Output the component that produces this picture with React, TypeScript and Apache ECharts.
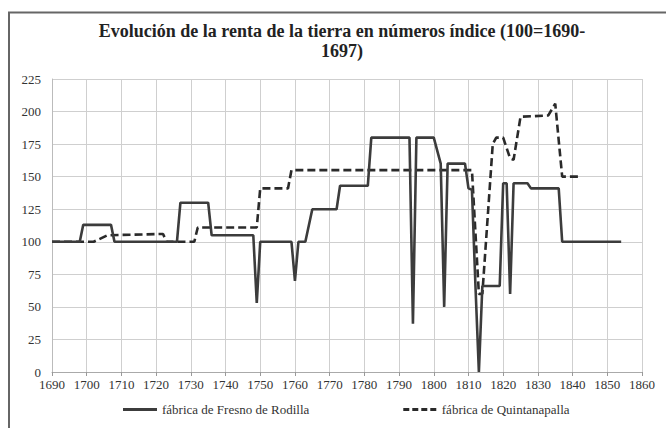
import React, { useEffect, useRef } from "react";
import * as echarts from "echarts";

const titleLine1 = "Evolución de la renta de la tierra en números índice (100=1690-";
const titleLine2 = "1697)";

const seriesNames = ["fábrica de Fresno de Rodilla", "fábrica de Quintanapalla"];

const fresnoYears = [1690, 1698, 1699, 1707, 1708, 1726, 1727, 1735, 1736, 1748, 1749, 1750, 1759, 1760, 1761, 1763, 1765, 1772, 1773, 1781, 1782, 1793, 1794, 1795, 1800, 1802, 1803, 1804, 1809, 1810, 1811, 1812, 1813, 1814, 1819, 1820, 1821, 1822, 1823, 1827, 1828, 1836, 1837, 1854];
const fresnoValues = [100, 100, 113, 113, 100, 100, 130, 130, 105, 105, 53, 100, 100, 70, 100, 100, 125, 125, 143, 143, 180, 180, 37, 180, 180, 160, 50, 160, 160, 141, 140, 67, 0, 66, 66, 145, 145, 60, 145, 145, 141, 141, 100, 100];

const quintYears = [1690, 1702, 1706, 1722, 1723, 1731, 1732, 1749, 1750, 1758, 1759, 1811, 1813, 1814, 1817, 1818, 1820, 1822, 1823, 1825, 1833, 1835, 1837, 1842];
const quintValues = [100, 100, 105, 106, 100, 100, 111, 111, 141, 141, 155, 155, 60, 60, 175, 180, 180, 164, 163, 196, 197, 206, 150, 150];

const xMin = 1690;
const xMax = 1860;
const xStep = 10;
const yMin = 0;
const yMax = 225;
const yStep = 25;

const FONT = "'Times New Roman', 'Liberation Serif', serif";

const solidIcon = "path://M0,0H34V3H0Z";
const dashedIcon = "path://M0,0H6V3H0Z M9,0H15V3H9Z M18,0H24V3H18Z M27,0H33V3H27Z";

export default function App() {
  const ref = useRef<HTMLDivElement>(null);
  useEffect(() => {
    if (!ref.current) return;
    const chart = echarts.init(ref.current, undefined, { renderer: "svg" });
    const fresno = fresnoYears.map((y, i) => [y, fresnoValues[i]]);
    const quint = quintYears.map((y, i) => [y, quintValues[i]]);
    chart.setOption({
      animation: false,
      backgroundColor: "#ffffff",
      textStyle: { fontFamily: FONT },
      graphic: [
        { type: "line", shape: { x1: 8, y1: 12.5, x2: 666, y2: 12.5 }, style: { stroke: "#666", lineWidth: 2 } },
        { type: "line", shape: { x1: 9, y1: 12, x2: 9, y2: 428 }, style: { stroke: "#666", lineWidth: 2 } },
        { type: "text", x: 342, y: 31, style: { text: titleLine1, fontFamily: FONT, fontWeight: "bold", fontSize: 18, fill: "#222", textAlign: "center", textVerticalAlign: "middle" } },
        { type: "text", x: 342, y: 51, style: { text: titleLine2, fontFamily: FONT, fontWeight: "bold", fontSize: 18, fill: "#222", textAlign: "center", textVerticalAlign: "middle" } },
      ],
      grid: { left: 52, right: 24, top: 79, bottom: 56, containLabel: false },
      legend: {
        left: 123,
        top: 403,
        padding: 0,
        itemGap: 94,
        itemWidth: 34,
        itemHeight: 3,
        textStyle: { fontFamily: FONT, fontSize: 13, color: "#333" },
        data: [
          { name: seriesNames[0], icon: solidIcon, itemStyle: { color: "#3c3c3c" } },
          { name: seriesNames[1], icon: dashedIcon, itemStyle: { color: "#2a2a2a" } },
        ],
      },
      xAxis: {
        type: "value",
        min: xMin,
        max: xMax,
        interval: xStep,
        axisLine: { show: true, lineStyle: { color: "#aaa", width: 1 } },
        axisTick: { show: true, length: 4, lineStyle: { color: "#999" } },
        axisLabel: { fontFamily: FONT, fontSize: 13, color: "#333", margin: 6, formatter: (v: number) => String(v) },
        splitLine: { show: true, lineStyle: { color: "#cfcfcf", width: 1 } },
      },
      yAxis: {
        type: "value",
        min: yMin,
        max: yMax,
        interval: yStep,
        axisLine: { show: true, lineStyle: { color: "#bbb" } },
        axisTick: { show: false },
        axisLabel: { fontFamily: FONT, fontSize: 13, color: "#333", margin: 11 },
        splitLine: { show: true, lineStyle: { color: "#cfcfcf", width: 1 } },
      },
      series: [
        {
          name: seriesNames[0],
          type: "line",
          data: fresno,
          symbol: "none",
          lineStyle: { color: "#3c3c3c", width: 2.6, type: "solid" },
          itemStyle: { color: "#3c3c3c" },
          z: 3,
        },
        {
          name: seriesNames[1],
          type: "line",
          data: quint,
          symbol: "none",
          lineStyle: { color: "#2a2a2a", width: 2.6, type: [8, 4] },
          itemStyle: { color: "#2a2a2a" },
          z: 2,
        },
      ],
    });
    return () => chart.dispose();
  }, []);
  return (
    <div
      ref={ref}
      style={{ position: "fixed", left: 0, top: 0, width: 666, height: 428 }}
    />
  );
}
